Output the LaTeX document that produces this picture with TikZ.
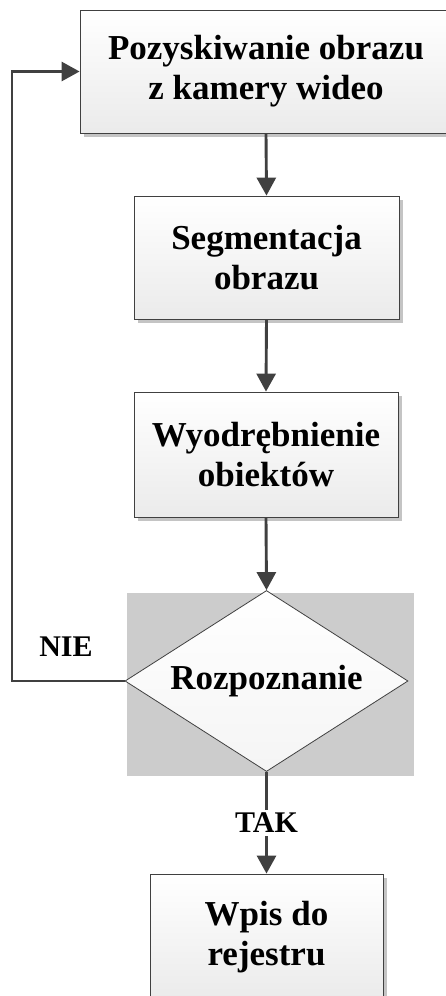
\documentclass[tikz,border=0pt]{standalone}
\usepackage{fontspec}
\setmainfont{Liberation Serif}
\usetikzlibrary{arrows.meta,shapes.geometric,shadows}
\definecolor{ln}{HTML}{404040}
\definecolor{shd}{HTML}{C4C4C4}
\definecolor{bgg}{HTML}{CCCCCC}
\begin{document}
\begin{tikzpicture}[x=1pt,y=-1pt,
  txt/.style={font=\fontsize{35}{40}\selectfont\bfseries, align=center},
  procbox/.style={txt, draw=ln, line width=0.8pt, top color=white, bottom color=gray!16,
    copy shadow={shadow xshift=4pt, shadow yshift=-4pt, fill=shd, draw=none},
    inner sep=0pt},
  conn/.style={draw=ln, line width=2.9pt, -{Triangle[length=18pt,width=19pt]}},
  lbl/.style={font=\fontsize{30}{32}\selectfont\bfseries}]
\useasboundingbox (0,0) rectangle (445,996);
\node[procbox, minimum width=372pt, minimum height=123pt] (b1) at (266,71.5) {Pozyskiwanie obrazu\\z kamery wideo};
\node[procbox, minimum width=265pt, minimum height=123pt] (b2) at (266.5,257.5) {Segmentacja\\obrazu};
\node[procbox, minimum width=264pt, minimum height=125pt] (b3) at (266,454.5) {Wyodrębnienie\\obiektów};
\fill[bgg] (127,593) rectangle (414,776);
\node[txt, diamond, draw=ln, line width=0.8pt, top color=white, bottom color=gray!8,
  minimum width=283pt, minimum height=181pt, aspect=1.56, inner sep=0pt] (d) at (266.5,681) {Rozpoznanie};
\node[procbox, minimum width=233pt, minimum height=126pt] (b5) at (266.5,937) {Wpis do\\rejestru};
\coordinate (lc) at (12,681);
\coordinate (tc) at (12,71.5);
\draw[conn] (b1.south) -- (b2.north);
\draw[conn] (b2.south) -- (b3.north);
\draw[conn] (b3.south) -- (d.north);
\draw[conn] (d.south) -- node[lbl, fill=white, inner sep=3pt, pos=0.5] (tak) {TAK} (b5.north);
\draw[conn] (d.west) -- (lc) -- (tc) -- (b1.west);
\node[lbl] (nie) at (66,647) {NIE};
\end{tikzpicture}
\end{document}
